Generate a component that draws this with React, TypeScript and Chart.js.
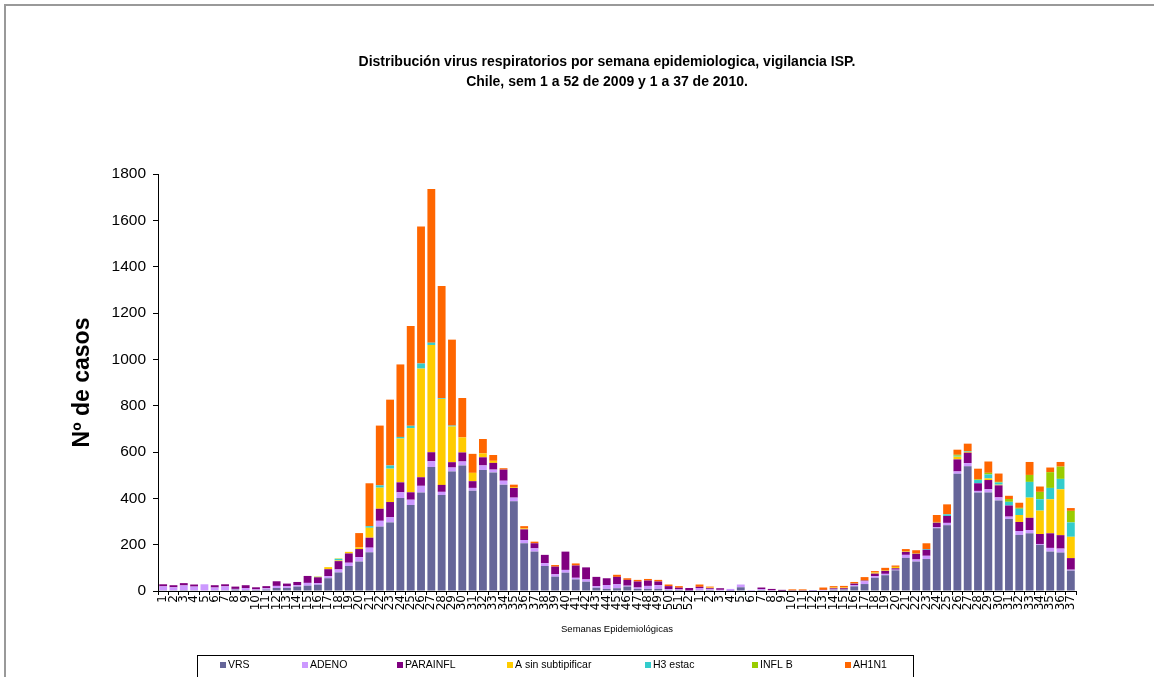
import React, { useEffect, useRef } from 'react';
import { Chart, registerables } from 'chart.js';

Chart.register(...registerables);

const TITLE_LINES = [
  'Distribución virus respiratorios por semana epidemiologica, vigilancia ISP.',
  'Chile, sem 1 a 52 de 2009 y 1 a 37 de 2010.',
];
const Y_TITLE = 'Nº de casos';
const X_TITLE = 'Semanas Epidemiológicas';
const Y_MAX = 1800;
const Y_STEP = 200;

const WEEK_LABELS = [
  '1', '2', '3', '4', '5', '6', '7', '8', '9', '10', '11', '12', '13', '14', '15', '16', '17', '18', '19', '20',
  '21', '22', '23', '24', '25', '26', '27', '28', '29', '30', '31', '32', '33', '34', '35', '36', '37', '38', '39', '40',
  '41', '42', '43', '44', '45', '46', '47', '48', '49', '50', '51', '52',
  '1', '2', '3', '4', '5', '6', '7', '8', '9', '10', '11', '12', '13', '14', '15', '16', '17', '18', '19', '20',
  '21', '22', '23', '24', '25', '26', '27', '28', '29', '30', '31', '32', '33', '34', '35', '36', '37',
];

const SERIES_NAMES = ['VRS', 'ADENO', 'PARAINFL', 'A sin subtipificar', 'H3 estac', 'INFL B', 'AH1N1'];
const SERIES_COLORS = ['#666699', '#CC99FF', '#800080', '#FFCC00', '#33CCCC', '#99CC00', '#FF6600'];

// 2009 weeks 1-52, then 2010 weeks 1-37
const VRS = [
  3, 3, 4, 3, 2, 3, 3, 6, 4, 4, 6, 13, 13, 19, 23, 27, 55, 80, 108, 127,
  167, 278, 296, 401, 371, 425, 535, 414, 516, 542, 433, 522, 512, 459, 387, 206, 170, 108, 62, 79,
  50, 40, 14, 9, 12, 19, 9, 9, 9, 4, 4, 1,
  3, 4, 2, 1, 16, 2, 4, 2, 1, 1, 1, 1, 2, 6, 7, 20, 30, 57, 68, 89,
  143, 127, 138, 271, 284, 506, 538, 425, 425, 391, 311, 242, 249, 199, 170, 166, 88,
];
const ADENO = [
  17, 13, 20, 16, 27, 12, 17, 3, 9, 3, 6, 9, 7, 6, 12, 7, 9, 13, 14, 19,
  20, 25, 22, 25, 23, 29, 25, 14, 17, 17, 12, 20, 12, 17, 16, 14, 14, 12, 10, 12,
  7, 10, 7, 17, 17, 4, 6, 13, 16, 4, 3, 1,
  10, 4, 3, 8, 12, 2, 4, 1, 0, 1, 1, 3, 2, 3, 1, 6, 12, 7, 6, 3,
  13, 9, 14, 4, 10, 10, 14, 7, 14, 13, 10, 17, 14, 4, 16, 17, 4,
];
const PARAINFL = [
  9, 9, 10, 9, 0, 10, 9, 10, 12, 9, 9, 20, 12, 14, 30, 25, 30, 36, 40, 35,
  43, 52, 66, 43, 32, 37, 39, 30, 23, 39, 29, 35, 29, 48, 42, 46, 22, 36, 33, 79,
  53, 52, 40, 29, 32, 25, 26, 23, 16, 13, 7, 11,
  5, 4, 7, 0, 0, 0, 7, 6, 4, 0, 0, 0, 1, 3, 4, 6, 3, 11, 13, 6,
  13, 25, 26, 20, 30, 52, 45, 33, 40, 52, 48, 39, 53, 43, 63, 58, 50,
];
const A_SIN_SUBTIPIFICAR = [
  0, 0, 0, 0, 0, 0, 0, 0, 0, 0, 0, 0, 0, 0, 0, 0, 9, 3, 7, 7,
  43, 91, 144, 189, 277, 469, 463, 371, 154, 65, 36, 17, 9, 0, 4, 4, 0, 0, 0, 0,
  0, 0, 0, 0, 0, 0, 0, 0, 0, 0, 0, 0,
  0, 3, 0, 0, 0, 0, 0, 0, 0, 0, 0, 0, 0, 3, 3, 1, 1, 5, 3, 6,
  3, 3, 0, 3, 0, 12, 4, 0, 7, 3, 0, 30, 87, 101, 147, 198, 92,
];
const H3_ESTAC = [
  0, 0, 0, 0, 0, 0, 0, 0, 0, 0, 0, 0, 0, 0, 0, 0, 0, 6, 0, 0,
  7, 10, 14, 7, 10, 22, 10, 3, 4, 0, 0, 0, 0, 0, 0, 0, 0, 0, 0, 0,
  0, 0, 0, 0, 0, 0, 0, 0, 0, 0, 0, 0,
  0, 0, 0, 0, 0, 0, 0, 0, 0, 0, 0, 0, 0, 0, 0, 0, 0, 0, 0, 0,
  0, 0, 3, 0, 7, 4, 3, 14, 17, 9, 16, 27, 68, 49, 49, 45, 62,
];
const INFL_B = [
  0, 0, 0, 0, 0, 0, 0, 0, 0, 0, 0, 0, 0, 0, 0, 3, 0, 2, 0, 0,
  0, 0, 0, 0, 0, 0, 0, 0, 0, 0, 0, 0, 0, 0, 0, 0, 0, 0, 0, 0,
  0, 0, 0, 0, 0, 0, 0, 0, 0, 0, 0, 0,
  0, 0, 0, 0, 0, 0, 0, 0, 0, 0, 0, 0, 0, 0, 0, 0, 0, 0, 0, 0,
  0, 0, 0, 0, 0, 4, 0, 3, 7, 3, 12, 4, 30, 32, 68, 53, 50,
];
const AH1N1 = [
  0, 0, 0, 0, 0, 0, 0, 0, 0, 0, 0, 0, 0, 0, 0, 0, 0, 0, 0, 62,
  185, 258, 284, 313, 431, 591, 663, 485, 371, 170, 82, 62, 25, 6, 10, 10, 7, 0, 7, 0,
  9, 0, 0, 0, 9, 7, 7, 7, 7, 7, 7, 0,
  10, 4, 0, 0, 0, 0, 0, 0, 0, 5, 5, 0, 10, 6, 7, 6, 14, 6, 10, 6,
  9, 12, 25, 30, 43, 22, 32, 46, 49, 36, 14, 22, 56, 23, 20, 20, 12,
];

const SERIES_VALUES = [VRS, ADENO, PARAINFL, A_SIN_SUBTIPIFICAR, H3_ESTAC, INFL_B, AH1N1];

const FONT = '"Liberation Sans", Arial, sans-serif';
const LEGEND_X = [223, 305, 400, 510, 648, 755, 848];

const decorPlugin = {
  id: 'decor',
  afterDraw(chart: any) {
    const ctx = chart.ctx as CanvasRenderingContext2D;
    ctx.save();
    // outer frame
    ctx.fillStyle = '#999999';
    ctx.fillRect(4, 4, chart.width - 4, 2);
    ctx.fillRect(4, 4, 2, chart.height - 4);
    // title
    ctx.fillStyle = '#000000';
    ctx.font = `bold 14px ${FONT}`;
    ctx.textAlign = 'center';
    ctx.textBaseline = 'middle';
    TITLE_LINES.forEach((t, i) => ctx.fillText(t, 607, 62 + i * 20));
    // legend box
    ctx.strokeStyle = '#000000';
    ctx.lineWidth = 1;
    ctx.strokeRect(197.5, 655.5, 716, 40);
    ctx.font = `10.5px ${FONT}`;
    ctx.textAlign = 'left';
    chart.data.datasets.forEach((ds: any, i: number) => {
      const x = LEGEND_X[i];
      ctx.fillStyle = ds.backgroundColor;
      ctx.fillRect(x - 3, 662, 6, 6);
      ctx.fillStyle = '#000000';
      ctx.fillText(ds.label, x + 5, 665.5);
    });
    ctx.restore();
  },
};

export default function App() {
  const ref = useRef<HTMLCanvasElement>(null);

  useEffect(() => {
    const canvas = ref.current;
    if (!canvas) return;
    const chart = new Chart(canvas, {
      type: 'bar',
      data: {
        labels: WEEK_LABELS,
        datasets: SERIES_NAMES.map((name, i) => ({
          label: name,
          data: SERIES_VALUES[i],
          backgroundColor: SERIES_COLORS[i],
          borderWidth: 0,
          barPercentage: 0.76,
          categoryPercentage: 1,
          stack: 's',
        })),
      },
      options: {
        responsive: false,
        animation: false,
        devicePixelRatio: 1,
        layout: { padding: { left: 69, right: 78, top: 174, bottom: 42 } },
        plugins: {
          legend: { display: false },
          title: { display: false },
          tooltip: { enabled: false },
        },
        scales: {
          x: {
            stacked: true,
            offset: true,
            grid: {
              display: true,
              drawOnChartArea: false,
              offset: true,
              color: '#000000',
              tickLength: 4,
            },
            border: { display: true, color: '#000000', width: 1 },
            ticks: {
              autoSkip: false,
              minRotation: 90,
              maxRotation: 90,
              padding: 0,
              color: '#000000',
              font: { family: '"DejaVu Sans", sans-serif', size: 12 },
            },
            title: {
              display: true,
              text: X_TITLE,
              color: '#000000',
              padding: { top: 0, bottom: 0 },
              font: { family: FONT, size: 9.5 },
            },
            afterFit(scale: any) {
              scale.height = 44;
            },
          },
          y: {
            stacked: true,
            min: 0,
            max: Y_MAX,
            grid: {
              display: true,
              drawOnChartArea: false,
              color: '#000000',
              tickLength: 5,
            },
            border: { display: true, color: '#000000', width: 1 },
            ticks: {
              stepSize: Y_STEP,
              padding: 7,
              color: '#000000',
              font: { family: FONT, size: 15.5 },
              callback: (v: any) => String(v),
            },
            title: {
              display: true,
              text: Y_TITLE,
              color: '#000000',
              padding: { top: 0, bottom: 0 },
              font: { family: FONT, size: 23, weight: 'bold' },
            },
            afterFit(scale: any) {
              scale.width = 89;
            },
          },
        },
      },
      plugins: [decorPlugin],
    });
    return () => chart.destroy();
  }, []);

  return (
    <div style={{ position: 'fixed', left: 0, top: 0, width: 1154, height: 677, background: '#ffffff' }}>
      <canvas ref={ref} width={1154} height={677} style={{ display: 'block', width: 1154, height: 677 }} />
    </div>
  );
}
